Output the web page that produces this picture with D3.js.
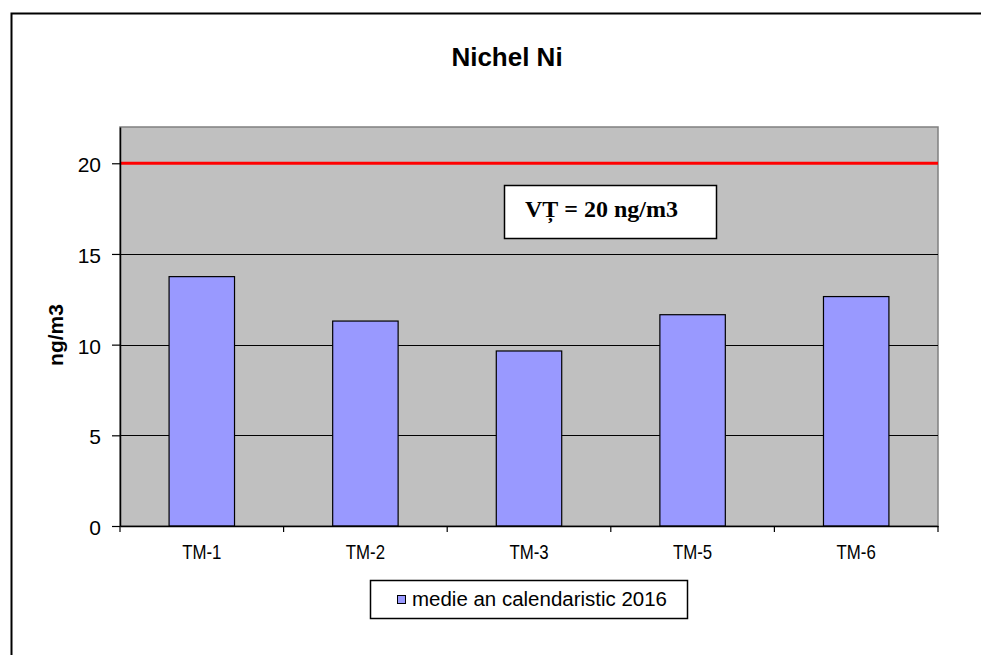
<!DOCTYPE html>
<html>
<head>
<meta charset="utf-8">
<script src="https://d3js.org/d3.v7.min.js"></script>
<style>
  body { margin: 0; background: #fff; }
  svg { display: block; }
</style>
</head>
<body>
<div id="chart"></div>
<script>
// data
var stations = ["TM-1", "TM-2", "TM-3", "TM-5", "TM-6"];
var values = [13.75, 11.3, 9.65, 11.65, 12.65];
var yTicks = [0, 5, 10, 15, 20];
var limitValue = 20;
var seriesName = "medie an calendaristic 2016";

var width = 981, height = 655;
var margin = { left: 120, right: 43, top: 127, bottom: 129 };
var sans = "Arial, 'Liberation Sans', sans-serif";

var svg = d3.select("#chart").append("svg")
  .attr("width", width)
  .attr("height", height);

// outer chart frame (runs past the window on right and bottom)
svg.append("rect")
  .attr("x", 11.5).attr("y", 13.5)
  .attr("width", 1000).attr("height", 700)
  .attr("fill", "#fff")
  .attr("stroke", "#000")
  .attr("stroke-width", 2);

var x = d3.scaleBand()
  .domain(stations)
  .range([margin.left, width - margin.right])
  .paddingInner(0.6)
  .paddingOuter(0.3);

var y = d3.scaleLinear()
  .domain([0, 22])
  .range([height - margin.bottom, margin.top]);

// plot area
svg.append("rect")
  .attr("x", margin.left).attr("y", margin.top)
  .attr("width", width - margin.left - margin.right)
  .attr("height", height - margin.top - margin.bottom)
  .attr("fill", "#c0c0c0")
  .attr("stroke", "#808080")
  .attr("stroke-width", 1.5);

// gridlines
svg.selectAll("line.grid")
  .data(yTicks.filter(function(d) { return d > 0; }))
  .enter()
  .append("line")
  .attr("class", "grid")
  .attr("x1", margin.left).attr("x2", width - margin.right)
  .attr("y1", function(d) { return Math.round(y(d)) + 0.5; })
  .attr("y2", function(d) { return Math.round(y(d)) + 0.5; })
  .attr("stroke", "#000")
  .attr("stroke-width", 1.2);

// bars
svg.selectAll("rect.bar")
  .data(values)
  .enter()
  .append("rect")
  .attr("class", "bar")
  .attr("x", function(d, i) { return x(stations[i]); })
  .attr("y", function(d) { return y(d); })
  .attr("width", x.bandwidth())
  .attr("height", function(d) { return y(0) - y(d); })
  .attr("fill", "#9999ff")
  .attr("stroke", "#000")
  .attr("stroke-width", 1.2);

// limit line
svg.append("line")
  .attr("x1", margin.left).attr("x2", width - margin.right)
  .attr("y1", y(limitValue)).attr("y2", y(limitValue))
  .attr("stroke", "#ff0000")
  .attr("stroke-width", 3);

// y axis
var yAxis = svg.append("g")
  .attr("transform", "translate(" + margin.left + ",0)")
  .call(d3.axisLeft(y).tickValues(yTicks).tickSize(8).tickSizeOuter(0).tickPadding(11));
yAxis.select(".domain").attr("stroke", "#000").attr("stroke-width", 1.5);
yAxis.selectAll(".tick line").attr("stroke", "#000").attr("stroke-width", 1.2);
yAxis.selectAll("text")
  .attr("font-family", sans)
  .attr("font-size", 21)
  .attr("dy", "0.4em")
  .attr("fill", "#000");

// x axis with ticks between categories
var xAxis = svg.append("g")
  .attr("transform", "translate(0," + y(0) + ")")
  .call(d3.axisBottom(x).tickSize(0).tickPadding(18));
xAxis.select(".domain").attr("stroke", "#000").attr("stroke-width", 1.5);
xAxis.selectAll("text")
  .attr("font-family", sans)
  .attr("font-size", 21)
  .attr("y", 33)
  .attr("dy", 0)
  .attr("fill", "#000")
  .each(function() {
    // the original labels are drawn narrow
    var w = this.getComputedTextLength();
    d3.select(this).attr("textLength", w * 0.8).attr("lengthAdjust", "spacingAndGlyphs");
  });

var sepPositions = d3.range(stations.length + 1).map(function(i) {
  return margin.left + i * (width - margin.left - margin.right) / stations.length;
});
xAxis.selectAll("line.sep")
  .data(sepPositions)
  .enter()
  .append("line")
  .attr("class", "sep")
  .attr("x1", function(d) { return d; }).attr("x2", function(d) { return d; })
  .attr("y1", 0).attr("y2", 6)
  .attr("stroke", "#000")
  .attr("stroke-width", 1.2);

// y axis title
svg.append("text")
  .attr("transform", "translate(63,335) rotate(-90)")
  .attr("text-anchor", "middle")
  .attr("font-family", sans)
  .attr("font-weight", "bold")
  .attr("font-size", 21)
  .text("ng/m3");

// title
svg.append("text")
  .attr("x", 507).attr("y", 66)
  .attr("text-anchor", "middle")
  .attr("font-family", sans)
  .attr("font-weight", "bold")
  .attr("font-size", 26)
  .text("Nichel Ni");

// limit annotation box
svg.append("rect")
  .attr("x", 504.5).attr("y", 185.5)
  .attr("width", 212).attr("height", 53)
  .attr("fill", "#fff")
  .attr("stroke", "#000")
  .attr("stroke-width", 1.5);
svg.append("text")
  .attr("x", 525).attr("y", 217)
  .attr("font-family", "'Liberation Serif', 'Times New Roman', serif")
  .attr("font-weight", "bold")
  .attr("font-size", 24)
  .text("VȚ = " + limitValue + " ng/m3");

// legend
var legend = svg.append("g");
legend.append("rect")
  .attr("x", 370.5).attr("y", 580.5)
  .attr("width", 317).attr("height", 38)
  .attr("fill", "#fff")
  .attr("stroke", "#000")
  .attr("stroke-width", 1.5);
legend.append("rect")
  .attr("x", 397.5).attr("y", 595.5)
  .attr("width", 8).attr("height", 8)
  .attr("fill", "#9999ff")
  .attr("stroke", "#000")
  .attr("stroke-width", 1);
legend.append("text")
  .attr("x", 412).attr("y", 606)
  .attr("font-family", sans)
  .attr("font-size", 20)
  .attr("textLength", 255)
  .attr("lengthAdjust", "spacingAndGlyphs")
  .text(seriesName);
</script>
</body>
</html>
